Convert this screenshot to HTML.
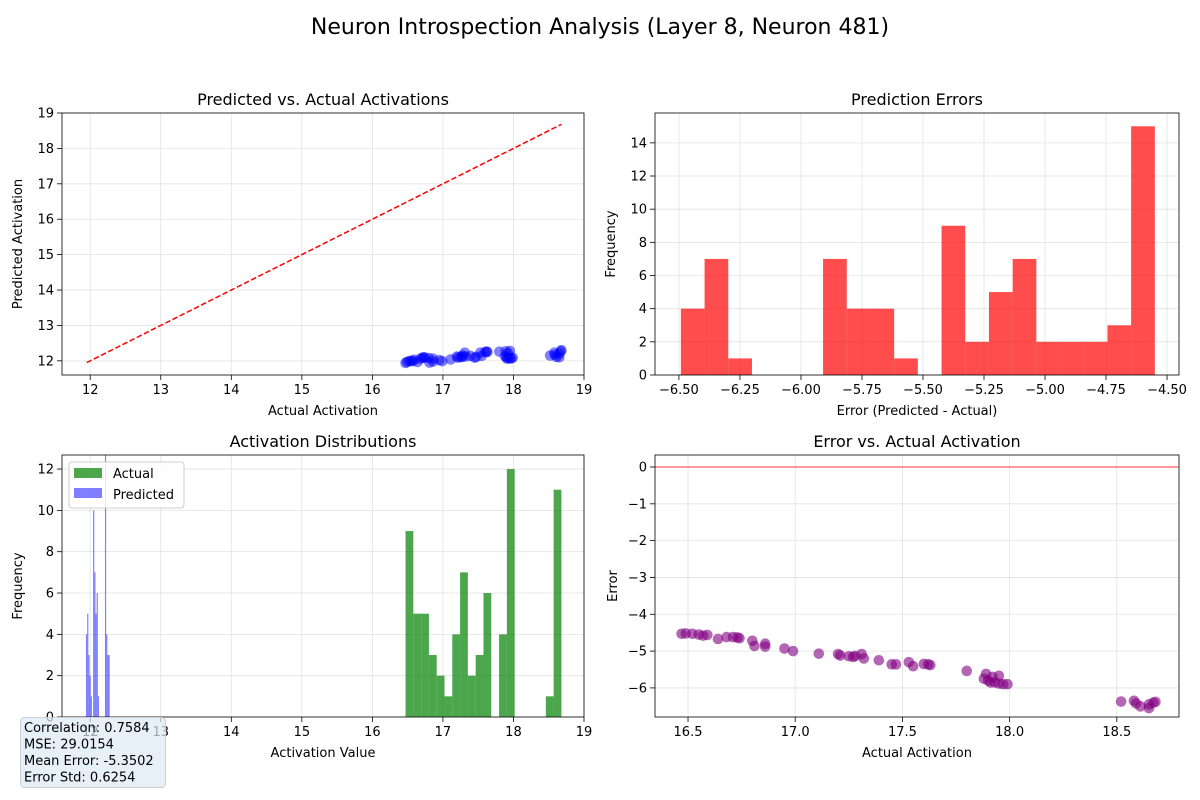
<!DOCTYPE html>
<html><head><meta charset="utf-8">
<style>
body{margin:0;background:#fff;}
svg{display:block;font-family:"DejaVu Sans","Liberation Sans",sans-serif;}
</style></head>
<body>
<svg id="fig" width="1200" height="800" viewBox="0 0 1200 800">
<rect width="1200" height="800" fill="#fff"/>
<text x="600" y="34" font-size="22" text-anchor="middle">Neuron Introspection Analysis (Layer 8, Neuron 481)</text>
</svg>
<script>
// Sample data: [actual activation, error]
const actualVals = [16.47,16.49,16.52,16.55,16.57,16.59,16.64,16.68,16.71,16.73,16.74,16.80,16.81,16.86,16.86,16.95,16.99,17.11,17.20,17.21,17.25,17.27,17.28,17.31,17.32,17.39,17.45,17.47,17.53,17.55,17.60,17.62,17.63,17.80,17.89,17.88,17.90,17.92,17.93,17.95,17.95,17.97,17.99,17.91,18.52,18.58,18.59,18.61,18.65,18.65,18.67,18.68];
const errorVals = [-4.53,-4.52,-4.53,-4.55,-4.58,-4.56,-4.67,-4.62,-4.62,-4.63,-4.65,-4.72,-4.86,-4.80,-4.88,-4.93,-5.00,-5.07,-5.08,-5.12,-5.14,-5.16,-5.13,-5.08,-5.20,-5.25,-5.36,-5.36,-5.30,-5.41,-5.35,-5.36,-5.38,-5.54,-5.62,-5.75,-5.80,-5.70,-5.85,-5.67,-5.88,-5.90,-5.90,-5.85,-6.37,-6.35,-6.42,-6.50,-6.55,-6.45,-6.40,-6.38];
// Error histogram
const errBinStart = -6.492, errBinWidth = 0.0971;
const errCounts = [4,7,1,0,0,0,7,4,4,1,0,9,2,5,7,2,2,2,3,15];
// Activation histograms
const actBinStart = 16.47, actBinWidth = 0.1105;
const actCounts = [9,5,5,3,2,1,4,7,2,3,6,0,4,12,0,0,0,0,1,11];
const predBinStart = 11.94, predBinWidth = 0.0168;
const predCounts = [4,5,3,2,1,0,10,7,5,6,1,0,0,0,0,0,14,4,3,3];
// Ticks
const tlTicks = [12,13,14,15,16,17,18,19];
const trXTicks = [-6.5,-6.25,-6.0,-5.75,-5.5,-5.25,-5.0,-4.75,-4.5];
const trYTicks = [0,2,4,6,8,10,12,14];
const blYTicks = [0,2,4,6,8,10,12];
const brXTicks = [16.5,17.0,17.5,18.0,18.5];
const brYTicks = [0,-1,-2,-3,-4,-5,-6];

const NS="http://www.w3.org/2000/svg";
const svg=document.getElementById('fig');
function mk(tag,attrs,parent){const e=document.createElementNS(NS,tag);for(const k in attrs)e.setAttribute(k,attrs[k]);(parent||svg).appendChild(e);return e;}
function fmt(v,d){return (v<0?'\u2212':'')+Math.abs(v).toFixed(d);}

function makeAxes(name,box,xd,yd){
  const g=mk('g',{});
  
  
  const sx=v=>box.x0+(v-xd[0])/(xd[1]-xd[0])*(box.x1-box.x0);
  const sy=v=>box.y1-(v-yd[0])/(yd[1]-yd[0])*(box.y1-box.y0);
  return {g,sx,sy,box};
}
function drawFrame(ax,xt,yt,xd,yd,title,xl,yl,xnames){
  const {g,sx,sy,box}=ax;
  xt.forEach((v,i)=>{const x=sx(v);
    const gl=mk('line',{x1:x,x2:x,y1:box.y0,y2:box.y1,stroke:'#b0b0b0','stroke-opacity':0.35,'stroke-width':0.8},g);
    
    mk('line',{x1:x,x2:x,y1:box.y1,y2:box.y1+5,stroke:'#000','stroke-width':0.8},g);
    const t=mk('text',{x:x,y:box.y1+19,'font-size':13,'text-anchor':'middle'},g);t.textContent=xnames(v);
    });
  yt.forEach(v=>{const y=sy(v);
    const gl=mk('line',{x1:box.x0,x2:box.x1,y1:y,y2:y,stroke:'#b0b0b0','stroke-opacity':0.35,'stroke-width':0.8},g);
    
    mk('line',{x1:box.x0-5,x2:box.x0,y1:y,y2:y,stroke:'#000','stroke-width':0.8},g);
    const t=mk('text',{x:box.x0-8,y:y+4.5,'font-size':13,'text-anchor':'end'},g);t.textContent=fmt(v,0);
    });
  const tt=mk('text',{x:(box.x0+box.x1)/2,y:box.y0-8,'font-size':16,'text-anchor':'middle'},g);tt.textContent=title;
  
  const xa=mk('text',{x:(box.x0+box.x1)/2,y:box.y1+40,'font-size':13,'text-anchor':'middle'},g);xa.textContent=xl;
  
  const cy=(box.y0+box.y1)/2, cx=box.x0-(yl==='Error'?38:40);
  const ya=mk('text',{x:cx,y:cy,'font-size':13,'text-anchor':'middle',transform:`rotate(-90 ${cx} ${cy})`},g);ya.textContent=yl;
  
}
function border(ax){const {g,box}=ax;
  const r=mk('rect',{x:box.x0,y:box.y0,width:box.x1-box.x0,height:box.y1-box.y0,fill:'none',stroke:'#000','stroke-width':0.8},g);
  }

// Top-left: predicted vs actual
const tl=makeAxes('predicted-vs-actual-axes',{x0:62,x1:584,y0:113,y1:375},[11.6,19.0],[11.6,19.0]);
drawFrame(tl,tlTicks,tlTicks,null,null,'Predicted vs. Actual Activations','Actual Activation','Predicted Activation',v=>String(v));
{const l=mk('line',{x1:tl.sx(11.95),y1:tl.sy(11.95),x2:tl.sx(18.68),y2:tl.sy(18.68),stroke:'red','stroke-width':1.5,'stroke-dasharray':'5.5,2.5'},tl.g);
 
 actualVals.forEach((a,i)=>{const c=mk('circle',{cx:tl.sx(a),cy:tl.sy(a+errorVals[i]),r:5.3,fill:'blue','fill-opacity':0.5},tl.g);
  });}
border(tl);

// Top-right: error histogram
const tr=makeAxes('prediction-errors-axes',{x0:655,x1:1179,y0:113,y1:375},[-6.598,-4.451],[0,15.8]);
drawFrame(tr,trXTicks,trYTicks,null,null,'Prediction Errors','Error (Predicted - Actual)','Frequency',v=>fmt(v,2));
errCounts.forEach((c,i)=>{if(!c)return;const x0=tr.sx(errBinStart+i*errBinWidth),x1=tr.sx(errBinStart+(i+1)*errBinWidth);
  const r=mk('rect',{x:x0,y:tr.sy(c),width:x1-x0,height:tr.sy(0)-tr.sy(c),fill:'red','fill-opacity':0.7},tr.g);
  });
border(tr);

// Bottom-left: distributions
const bl=makeAxes('activation-distributions-axes',{x0:62,x1:584,y0:455,y1:717},[11.6,19.0],[0,12.68]);
drawFrame(bl,tlTicks,blYTicks,null,null,'Activation Distributions','Activation Value','Frequency',v=>String(v));
{const clip=mk('clipPath',{id:'c3'});mk('rect',{x:62,y:455,width:522,height:262},clip);
 const cg=mk('g',{'clip-path':'url(#c3)'},bl.g);
 actCounts.forEach((c,i)=>{if(!c)return;const x0=bl.sx(actBinStart+i*actBinWidth),x1=bl.sx(actBinStart+(i+1)*actBinWidth);
  const r=mk('rect',{x:x0,y:bl.sy(c),width:x1-x0,height:bl.sy(0)-bl.sy(c),fill:'green','fill-opacity':0.7},cg);
  });
 predCounts.forEach((c,i)=>{if(!c)return;const x0=bl.sx(predBinStart+i*predBinWidth),x1=bl.sx(predBinStart+(i+1)*predBinWidth);
  const r=mk('rect',{x:x0,y:bl.sy(c),width:x1-x0,height:bl.sy(0)-bl.sy(c),fill:'blue','fill-opacity':0.5},cg);
  });}
border(bl);
{const lg=mk('g',{},bl.g);
 mk('rect',{x:69,y:462,width:115,height:46,rx:3,fill:'#fff','fill-opacity':0.8,stroke:'#ccc'},lg);
 const e1=mk('rect',{x:74,y:468,width:28,height:10,fill:'green','fill-opacity':0.7},lg);
 
 const t1=mk('text',{x:113,y:478,'font-size':13},lg);t1.textContent='Actual';
 
 const e2=mk('rect',{x:74,y:488,width:28,height:10,fill:'blue','fill-opacity':0.5},lg);
 
 const t2=mk('text',{x:113,y:499,'font-size':13},lg);t2.textContent='Predicted';
 }

// Bottom-right: error vs actual
const br=makeAxes('error-vs-actual-axes',{x0:655,x1:1179,y0:455,y1:717},[16.346,18.79],[-6.79,0.326]);
drawFrame(br,brXTicks,brYTicks,null,null,'Error vs. Actual Activation','Actual Activation','Error',v=>v.toFixed(1));
{const l=mk('line',{x1:655,x2:1179,y1:br.sy(0),y2:br.sy(0),stroke:'red','stroke-opacity':0.5,'stroke-width':1.5},br.g);
 
 actualVals.forEach((a,i)=>{const c=mk('circle',{cx:br.sx(a),cy:br.sy(errorVals[i]),r:5.3,fill:'purple','fill-opacity':0.6},br.g);
  });}
border(br);

// Stats box
{const sg=mk('g',{});
 mk('rect',{x:20.5,y:717.5,width:145,height:70,rx:4,fill:'#dde8f3','fill-opacity':0.7,stroke:'#c8d0d8'},sg);
 ['Correlation: 0.7584','MSE: 29.0154','Mean Error: -5.3502','Error Std: 0.6254'].forEach((s,i)=>{
  const t=mk('text',{x:24,y:732+i*16.5,'font-size':13},sg);t.textContent=s;
  });}
</script>
</body></html>
